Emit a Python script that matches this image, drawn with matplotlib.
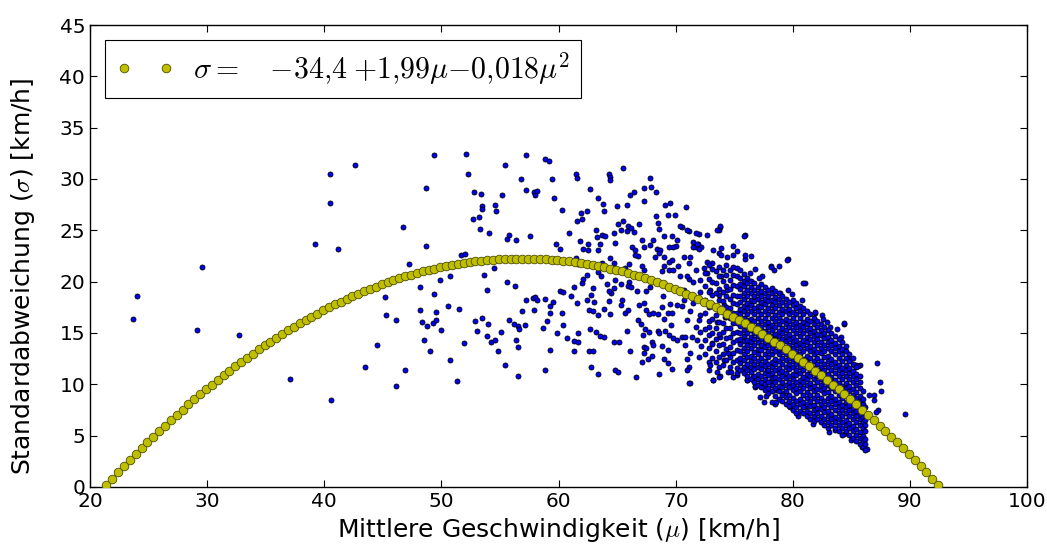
import numpy as np
import matplotlib.pyplot as plt

plt.rcParams['mathtext.fontset'] = 'cm'
plt.rcParams['font.family'] = ['DejaVu Sans']

# Ausgleichskurve sigma(mu) - Markerpositionen
fit_mu = [21.4, 21.9, 22.4, 22.9, 23.4, 23.9, 24.4, 24.9, 25.4, 25.9,
          26.4, 26.9, 27.4, 27.9, 28.4, 28.9, 29.4, 29.9, 30.4, 30.9,
          31.4, 31.9, 32.4, 32.9, 33.4, 33.9, 34.4, 34.9, 35.4, 35.9,
          36.4, 36.9, 37.4, 37.9, 38.4, 38.9, 39.4, 39.9, 40.4, 40.9,
          41.4, 41.9, 42.4, 42.9, 43.4, 43.9, 44.4, 44.9, 45.4, 45.9,
          46.4, 46.9, 47.4, 47.9, 48.4, 48.9, 49.4, 49.9, 50.4, 50.9,
          51.4, 51.9, 52.4, 52.9, 53.4, 53.9, 54.4, 54.9, 55.4, 55.9,
          56.4, 56.9, 57.4, 57.9, 58.4, 58.9, 59.4, 59.9, 60.4, 60.9,
          61.4, 61.9, 62.4, 62.9, 63.4, 63.9, 64.4, 64.9, 65.4, 65.9,
          66.4, 66.9, 67.4, 67.9, 68.4, 68.9, 69.4, 69.9, 70.4, 70.9,
          71.4, 71.9, 72.4, 72.9, 73.4, 73.9, 74.4, 74.9, 75.4, 75.9,
          76.4, 76.9, 77.4, 77.9, 78.4, 78.9, 79.4, 79.9, 80.4, 80.9,
          81.4, 81.9, 82.4, 82.9, 83.4, 83.9, 84.4, 84.9, 85.4, 85.9,
          86.4, 86.9, 87.4, 87.9, 88.4, 88.9, 89.4, 89.9, 90.4, 90.9,
          91.4, 91.9, 92.4]
fit_sigma = [0.20, 0.81, 1.42, 2.02, 2.61, 3.19, 3.77, 4.33, 4.89, 5.43,
             5.97, 6.50, 7.02, 7.53, 8.04, 8.53, 9.02, 9.49, 9.96, 10.42,
             10.87, 11.31, 11.75, 12.17, 12.59, 12.99, 13.39, 13.78, 14.16, 14.53,
             14.90, 15.25, 15.60, 15.93, 16.26, 16.58, 16.89, 17.19, 17.49, 17.77,
             18.05, 18.31, 18.57, 18.82, 19.06, 19.29, 19.52, 19.73, 19.94, 20.13,
             20.32, 20.50, 20.67, 20.83, 20.99, 21.13, 21.27, 21.39, 21.51, 21.62,
             21.72, 21.81, 21.90, 21.97, 22.04, 22.09, 22.14, 22.18, 22.21, 22.23,
             22.25, 22.25, 22.25, 22.23, 22.21, 22.18, 22.14, 22.09, 22.04, 21.97,
             21.90, 21.81, 21.72, 21.62, 21.51, 21.39, 21.27, 21.13, 20.99, 20.83,
             20.67, 20.50, 20.32, 20.13, 19.94, 19.73, 19.52, 19.29, 19.06, 18.82,
             18.57, 18.31, 18.05, 17.77, 17.49, 17.19, 16.89, 16.58, 16.26, 15.93,
             15.60, 15.25, 14.90, 14.53, 14.16, 13.78, 13.39, 12.99, 12.59, 12.17,
             11.75, 11.31, 10.87, 10.42, 9.96, 9.49, 9.02, 8.53, 8.04, 7.53,
             7.02, 6.50, 5.97, 5.43, 4.89, 4.33, 3.77, 3.19, 2.61, 2.02,
             1.42, 0.81, 0.20]

fit_label = r'$\sigma=\quad{-}34{,}4\;{+}1{,}99\mu{-}0{,}018\mu^2$'

# einzelne Messpunkte (mu, sigma), locker verteilter Bereich
sparse_points = [
    (24.0, 18.6), (23.7, 16.4), (29.6, 21.4), (29.1, 15.3), (32.7, 14.8), (37.1, 10.5),
    (40.6, 8.5), (40.5, 30.5), (42.6, 31.4), (40.5, 27.7), (39.2, 23.7), (41.2, 23.2),
    (45.2, 18.5), (45.3, 16.7), (44.5, 13.8), (43.5, 11.7),
    (49.4, 32.3), (52.1, 32.4), (57.2, 32.3), (58.8, 31.9), (59.2, 31.8), (55.4, 31.4),
    (52.3, 30.5), (48.7, 29.1), (65.5, 31.1), (61.5, 30.5), (61.6, 30.1), (64.3, 30.5),
    (64.4, 30.2), (64.4, 29.9), (56.8, 30.0), (59.4, 30.0), (57.2, 28.9), (57.9, 28.7),
    (58.0, 28.4), (58.2, 28.8), (52.8, 28.7), (53.4, 28.5), (55.2, 28.4), (59.6, 28.1),
    (62.7, 29.0), (53.5, 27.4), (53.5, 27.1), (54.6, 27.5), (54.7, 26.9), (52.7, 26.1),
    (53.2, 26.3), (60.3, 27.0), (63.4, 28.1), (63.8, 27.6), (63.9, 26.9), (65.0, 27.4),
    (61.9, 26.7), (62.4, 26.9), (61.6, 25.9), (62.0, 26.1), (66.1, 28.4), (66.4, 28.7),
    (65.5, 25.9), (65.9, 25.4), (65.8, 27.5), (67.3, 27.9), (67.3, 29.1), (67.8, 30.1),
    (67.9, 29.2), (68.3, 28.7), (69.1, 27.5), (69.5, 27.7), (69.3, 26.5), (69.9, 26.5),
    (68.3, 26.4), (68.6, 25.1), (68.5, 25.7), (65.1, 25.6), (66.9, 25.6), (53.3, 25.1),
    (54.1, 24.7), (55.8, 24.5), (55.6, 24.2), (56.4, 24.1), (57.6, 24.4), (60.9, 24.7),
    (59.8, 23.7), (60.1, 23.2), (61.8, 24.0), (62.5, 23.7), (62.1, 23.2), (62.5, 23.1),
    (63.2, 25.0), (63.3, 24.3), (63.7, 24.5), (64.0, 24.4), (63.5, 23.7), (64.7, 24.7),
    (65.3, 25.0), (65.8, 24.9), (66.2, 25.2), (66.4, 24.8), (64.8, 23.8), (66.3, 23.4),
    (66.5, 23.1), (67.1, 24.1), (67.3, 23.4), (67.8, 23.6), (68.1, 24.1), (68.4, 23.2),
    (69.0, 24.4), (69.7, 24.4), (70.0, 23.5), (69.8, 23.4), (70.1, 24.1), (68.7, 23.1),
    (69.4, 23.4), (46.7, 25.3), (48.7, 23.5), (47.2, 21.7), (51.7, 22.6), (52.0, 22.7),
    (53.6, 20.6), (54.5, 21.3), (50.7, 20.5), (49.9, 20.2), (48.2, 19.5), (46.1, 16.3),
    (48.2, 17.2), (48.3, 16.1), (48.8, 15.7), (49.3, 16.0), (49.5, 17.0), (49.5, 16.3),
    (49.4, 18.8), (50.6, 17.6), (51.5, 17.3), (50.0, 15.3), (48.5, 14.3), (49.0, 13.2),
    (50.7, 12.4), (51.3, 10.3), (46.9, 11.4), (46.1, 9.8), (51.9, 14.0), (52.9, 16.2),
    (53.0, 15.2), (53.5, 16.5), (54.0, 15.9), (53.9, 14.7), (54.2, 14.1), (54.6, 14.3),
    (55.1, 15.1), (54.8, 13.2), (53.9, 19.2), (55.6, 20.0), (56.3, 19.6), (55.8, 16.3),
    (56.2, 15.9), (56.5, 15.7), (56.6, 15.4), (57.1, 15.8), (56.4, 14.3), (56.5, 13.6),
    (55.4, 11.9), (56.5, 10.8), (57.2, 18.2), (57.8, 18.4), (58.0, 18.5), (58.2, 18.2),
    (58.8, 18.3), (59.3, 17.6), (59.5, 18.0), (59.3, 16.9), (59.0, 16.2), (58.7, 15.5),
    (57.9, 17.2), (56.9, 17.1), (60.3, 16.9), (60.4, 15.8), (59.9, 15.0), (59.3, 13.3),
    (58.8, 11.4), (60.7, 14.5), (61.3, 14.2), (61.7, 15.0), (61.7, 14.1), (61.3, 13.2),
    (60.1, 19.1), (60.4, 19.0), (61.1, 18.6), (61.3, 19.5), (61.6, 17.9), (62.0, 19.9),
    (62.4, 18.2), (62.6, 17.2), (62.9, 17.1), (63.4, 16.7), (63.0, 18.0), (62.1, 20.3),
    (62.4, 20.6), (62.9, 19.4), (62.8, 18.7), (62.7, 15.4), (63.2, 15.1), (63.5, 14.7),
    (63.9, 14.6), (62.6, 13.2), (62.9, 13.2), (62.8, 11.7), (63.4, 11.0), (64.7, 14.1),
    (64.8, 11.4), (65.1, 11.2), (63.9, 17.3), (64.3, 18.1), (64.5, 18.9), (64.1, 19.8),
    (64.8, 20.2), (64.4, 16.8), (65.3, 17.7), (65.4, 18.2), (65.7, 16.9), (65.9, 17.2),
    (65.8, 15.2), (66.1, 13.2), (65.2, 14.1), (66.6, 10.7), (66.0, 20.0), (65.9, 19.6),
    (66.2, 19.5), (66.7, 19.1), (66.8, 22.5), (67.1, 21.5), (67.3, 21.1), (67.8, 19.5),
    (67.5, 19.1), (66.9, 17.7), (67.3, 17.9), (67.5, 17.2), (67.7, 16.8), (66.8, 16.3),
    (67.0, 15.9), (67.4, 15.4), (67.2, 14.8), (67.7, 15.1), (67.3, 13.6), (67.5, 13.5),
    (67.3, 13.0), (68.0, 14.1), (68.1, 13.8), (67.1, 12.2), (67.6, 12.5), (68.0, 12.8),
    (68.6, 11.0), (68.1, 16.9), (68.5, 16.8), (68.8, 17.5), (69.0, 16.4), (69.3, 16.9),
    (68.5, 15.2), (68.6, 15.0), (69.1, 15.2), (69.4, 14.8), (68.8, 13.7), (69.3, 13.3),
    (69.0, 12.5), (69.3, 12.1), (69.7, 11.5), (68.9, 18.6), (69.5, 17.8), (69.7, 16.9),
    (70.1, 17.7), (69.6, 15.8), (69.8, 14.5), (70.1, 14.3), (69.0, 21.5), (68.8, 21.0),
    (69.4, 21.9), (69.4, 21.1), (69.8, 21.1), (68.2, 22.4), (68.6, 22.8), (69.0, 22.4),
    (69.7, 22.1), (65.3, 19.8), (64.7, 19.4), (64.3, 19.1), (63.4, 20.9), (63.6, 20.5),
    (61.5, 22.3), (61.7, 21.7), (62.5, 21.6), (63.4, 23.1), (63.7, 21.8), (64.4, 22.3),
    (64.7, 21.8), (65.7, 21.3), (66.0, 21.7), (66.5, 22.6),
    # Bereich 70 - 80
    (70.9, 27.3), (70.5, 25.3), (71.1, 24.9), (73.8, 25.3), (73.7, 25.0), (75.9, 24.5),
    (72.7, 24.5), (72.0, 24.6), (71.5, 23.9), (71.9, 23.7), (71.7, 23.4), (72.2, 23.4),
    (73.2, 23.1), (73.9, 23.3), (73.7, 22.8), (74.9, 23.5), (75.2, 23.0), (75.9, 22.2),
    (76.4, 22.5), (74.4, 22.4), (72.7, 21.9), (79.6, 22.2), (78.1, 21.5), (78.8, 21.5),
    (78.4, 21.1), (81.0, 19.9), (76.8, 21.2), (77.4, 20.5), (70.2, 21.5), (71.1, 20.3),
    (70.4, 20.5), (71.5, 20.0), (79.6, 19.2), (78.9, 18.9), (81.9, 16.9), (82.5, 16.7),
    (81.8, 16.1), (83.2, 15.6), (84.1, 14.6), (84.4, 15.9), (84.9, 12.5), (85.2, 11.9),
    (85.7, 11.9), (87.2, 12.1), (87.4, 10.2), (87.5, 9.3), (86.9, 9.0), (87.3, 7.5),
    (71.1, 11.7), (71.0, 12.5), (70.8, 13.8), (70.5, 14.6), (71.4, 14.6), (72.1, 15.1),
    (71.2, 10.1), (72.8, 11.4), (73.2, 10.4), (73.8, 10.8), (73.7, 11.7), (74.5, 11.2),
    (75.2, 10.9), (76.1, 10.4), (76.8, 9.7), (77.2, 8.8), (77.5, 8.3), (78.5, 8.1),
    (79.8, 7.8), (74.5, 13.0), (75.5, 12.4), (76.2, 11.7),
    (70.4, 25.4), (71.0, 25.0), (71.7, 24.7), (71.8, 23.7), (71.5, 23.4), (72.0, 23.2),
    (73.5, 25.0), (73.8, 25.4), (73.9, 22.6), (74.9, 22.6), (75.8, 24.4), (75.9, 22.6),
    (78.1, 21.4), (79.5, 22.1), (70.7, 22.4), (71.2, 22.4), (71.1, 21.8), (71.7, 21.1),
    (72.4, 21.3), (73.1, 21.8), (71.0, 20.5), (72.1, 20.2), (72.7, 20.8), (73.9, 20.5),
    (70.5, 17.6), (71.2, 17.1), (72.1, 16.7), (71.0, 16.3), (71.7, 15.6), (70.8, 14.6),
    (71.8, 14.3), (72.2, 13.7), (73.1, 14.0), (73.8, 14.6), (71.2, 13.0), (72.0, 12.7),
    (72.8, 12.2), (74.1, 12.4), (71.0, 11.4), (72.9, 11.9), (73.5, 11.2), (74.7, 11.2),
    (74.9, 10.7), (71.1, 10.1), (73.2, 10.4), (73.7, 10.7), (75.2, 11.1), (75.8, 11.6),
    (76.1, 10.4), (76.6, 10.7), (77.8, 11.4), (77.5, 9.8), (78.1, 10.3), (76.8, 9.8),
    (78.6, 9.4), (78.2, 8.3), (79.2, 9.1),
    (70.7, 19.2), (71.4, 18.7), (72.1, 19.0), (72.9, 19.2), (73.7, 18.7), (74.4, 19.2),
    (70.7, 18.2), (71.5, 17.9), (72.5, 18.0), (73.2, 17.6), (74.1, 17.7), (72.0, 16.3),
    (72.8, 15.6), (73.5, 16.1), (74.2, 16.6),
    # Rand der dichten Wolke
    (80.9, 19.9), (84.4, 16.0), (81.9, 17.0), (82.6, 16.4), (84.8, 12.6), (85.4, 11.9),
    (85.6, 11.8), (86.5, 9.0), (86.9, 8.5), (87.1, 7.3), (78.6, 8.3), (81.1, 7.9),
    (82.6, 6.6), (83.6, 5.5), (84.4, 5.2), (85.0, 4.6), (85.9, 3.9), (86.3, 3.7),
    (89.6, 7.1), (76.3, 20.8), (77.1, 20.4), (79.9, 18.8), (80.8, 18.2), (82.9, 16.1),
    (83.8, 15.4), (77.7, 8.9), (80.4, 6.9), (81.7, 6.1), (83.1, 5.3),
]

dense_columns = [
    (72.5, [12.9, 14.3, 15.4, 16.9, 18.2, 19.6, 20.8]),
    (72.8, [13.5, 14.8, 16.2, 17.5, 19.0, 20.3, 21.6]),
    (73.1, [12.6, 13.9, 15.0, 16.4, 17.8, 18.7, 20.0, 21.2]),
    (73.4, [12.2, 13.2, 14.4, 15.5, 16.7, 17.6, 18.9, 19.9, 21.0]),
    (73.7, [12.7, 13.8, 14.9, 16.1, 17.2, 18.2, 19.3, 20.5, 21.4]),
    (74.0, [11.9, 12.9, 13.9, 15.1, 16.0, 17.0, 18.1, 19.0, 20.1, 21.1]),
    (74.3, [12.4, 13.4, 14.5, 15.5, 16.6, 17.5, 18.6, 19.6, 20.6, 21.6]),
    (74.6, [11.7, 12.7, 13.6, 14.6, 15.5, 16.5, 17.4, 18.3, 19.3, 20.2, 21.1]),
    (74.9, [12.2, 13.0, 14.1, 15.0, 16.0, 16.9, 17.9, 18.7, 19.7, 20.6, 21.4]),
    (75.2, [11.6, 12.4, 13.3, 14.3, 15.1, 16.0, 16.9, 17.8, 18.6, 19.6, 20.5, 21.3]),
    (75.5, [11.4, 12.1, 12.6, 13.2, 13.9, 14.4, 15.0, 15.7, 16.2, 16.8, 17.3, 18.0, 18.6, 19.3, 19.8, 20.4, 21.1]),
    (75.8, [11.1, 11.7, 12.4, 12.9, 13.5, 14.2, 14.7, 15.3, 15.8, 16.5, 17.1, 17.6, 18.3, 18.9, 19.6, 20.1, 20.7]),
    (76.1, [10.8, 11.4, 12.0, 12.7, 13.2, 13.8, 14.3, 15.0, 15.6, 16.3, 16.8, 17.4, 17.9, 18.6, 19.2, 19.9, 20.4]),
    (76.4, [10.5, 11.2, 11.7, 12.3, 12.8, 13.5, 14.1, 14.6, 15.3, 15.9, 16.4, 17.1, 17.7, 18.2, 18.9, 19.5, 20.1]),
    (76.7, [10.2, 10.8, 11.5, 12.0, 12.6, 13.1, 13.8, 14.4, 15.0, 15.5, 16.2, 16.8, 17.4, 18.1, 18.6, 19.2, 19.9]),
    (77.0, [9.9, 10.5, 11.0, 11.7, 12.3, 12.9, 13.4, 14.1, 14.7, 15.3, 15.8, 16.5, 17.1, 17.6, 18.3, 18.9, 19.5]),
    (77.3, [9.7, 10.2, 10.8, 11.5, 12.0, 12.6, 13.3, 13.8, 14.4, 15.1, 15.6, 16.2, 16.8, 17.5, 18.0, 18.6, 19.1, 19.8]),
    (77.6, [9.4, 10.0, 10.5, 11.1, 11.8, 12.3, 12.9, 13.6, 14.1, 14.7, 15.2, 15.9, 16.5, 17.1, 17.8, 18.3, 18.9, 19.5]),
    (77.9, [9.1, 9.6, 10.2, 10.9, 11.4, 12.0, 12.7, 13.2, 13.8, 14.3, 15.0, 15.6, 16.1, 16.8, 17.4, 18.1, 18.6, 19.2]),
    (78.2, [9.3, 9.9, 10.6, 11.1, 11.7, 12.2, 12.9, 13.5, 14.0, 14.7, 15.3, 15.8, 16.5, 17.1, 17.7, 18.2, 18.9, 19.4]),
    (78.5, [8.9, 9.6, 10.2, 10.7, 11.4, 12.0, 12.5, 13.2, 13.8, 14.4, 14.9, 15.6, 16.2, 16.7, 17.4, 18.0, 18.5, 19.1]),
    (78.8, [8.6, 9.3, 9.8, 10.5, 11.1, 11.6, 12.3, 12.9, 13.4, 14.1, 14.7, 15.2, 15.9, 16.5, 17.0, 17.7, 18.3, 18.9]),
    (79.1, [8.4, 9.0, 9.7, 10.2, 10.8, 11.3, 12.0, 12.6, 13.1, 13.8, 14.4, 15.0, 15.5, 16.2, 16.8, 17.3, 18.0, 18.6]),
    (79.4, [8.1, 8.8, 9.3, 9.9, 10.6, 11.1, 11.7, 12.4, 12.9, 13.5, 14.2, 14.7, 15.3, 15.9, 16.4, 17.1, 17.7, 18.3]),
    (79.7, [7.9, 8.4, 9.0, 9.7, 10.2, 10.8, 11.5, 12.0, 12.6, 13.1, 13.8, 14.4, 14.9, 15.6, 16.2, 16.8, 17.3, 18.0]),
    (80.0, [7.5, 8.1, 8.7, 9.4, 9.9, 10.5, 11.0, 11.7, 12.3, 12.8, 13.5, 14.1, 14.6, 15.3, 15.9, 16.5, 17.0, 17.7, 18.2]),
    (80.3, [7.2, 7.8, 8.4, 9.1, 9.6, 10.2, 10.9, 11.4, 12.0, 12.5, 13.2, 13.8, 14.3, 15.0, 15.6, 16.1, 16.8, 17.4, 17.9]),
    (80.6, [7.4, 8.1, 8.6, 9.3, 9.9, 10.4, 11.1, 11.7, 12.2, 12.9, 13.5, 14.0, 14.7, 15.3, 15.8, 16.5, 17.1, 17.6]),
    (80.9, [7.2, 7.8, 8.3, 9.0, 9.6, 10.2, 10.7, 11.4, 12.0, 12.5, 13.2, 13.8, 14.3, 15.0, 15.6, 16.1, 16.8, 17.4]),
    (81.2, [6.9, 7.4, 8.1, 8.7, 9.2, 9.9, 10.5, 11.0, 11.7, 12.3, 12.8, 13.5, 14.1, 14.6, 15.3, 15.9, 16.4, 17.1]),
    (81.5, [6.6, 7.2, 7.9, 8.4, 9.0, 9.6, 10.1, 10.8, 11.4, 11.9, 12.6, 13.2, 13.7, 14.4, 15.0, 15.5, 16.2, 16.8]),
    (81.8, [6.4, 6.9, 7.5, 8.0, 8.7, 9.3, 9.8, 10.5, 11.1, 11.6, 12.3, 12.9, 13.4, 14.1, 14.7, 15.2, 15.9, 16.5]),
    (82.1, [6.6, 7.2, 7.7, 8.4, 9.0, 9.5, 10.2, 10.8, 11.3, 12.0, 12.6, 13.1, 13.8, 14.4, 14.9, 15.6, 16.2]),
    (82.4, [6.3, 6.9, 7.6, 8.1, 8.7, 9.4, 9.9, 10.5, 11.2, 11.7, 12.3, 13.0, 13.5, 14.1, 14.8, 15.3, 15.9]),
    (82.7, [6.0, 6.6, 7.3, 7.8, 8.4, 9.1, 9.6, 10.2, 10.9, 11.4, 12.0, 12.7, 13.2, 13.8, 14.5, 15.0, 15.6]),
    (83.0, [5.7, 6.3, 6.9, 7.4, 8.1, 8.7, 9.2, 9.9, 10.5, 11.0, 11.7, 12.3, 12.8, 13.5, 14.1, 14.6, 15.3]),
    (83.3, [6.0, 6.6, 7.1, 7.8, 8.4, 8.9, 9.6, 10.2, 10.7, 11.4, 12.0, 12.5, 13.2, 13.8, 14.3, 15.0]),
    (83.6, [5.7, 6.3, 6.8, 7.5, 8.1, 8.6, 9.3, 9.9, 10.4, 11.1, 11.7, 12.2, 12.9, 13.5, 14.0, 14.7]),
    (83.9, [5.4, 6.0, 6.6, 7.2, 7.8, 8.3, 9.0, 9.6, 10.1, 10.8, 11.4, 11.9, 12.6, 13.2, 13.7, 14.4]),
    (84.2, [5.1, 5.7, 6.3, 6.9, 7.5, 8.0, 8.7, 9.3, 9.8, 10.5, 11.1, 11.6, 12.3, 12.9, 13.4, 14.1]),
    (84.5, [5.4, 6.0, 6.5, 7.2, 7.8, 8.3, 9.0, 9.6, 10.1, 10.8, 11.4, 11.9, 12.6, 13.2, 13.7]),
    (84.8, [5.1, 5.7, 6.2, 6.9, 7.5, 8.0, 8.7, 9.3, 9.8, 10.5, 11.1, 11.6, 12.3, 12.9]),
    (85.1, [4.8, 5.4, 5.9, 6.6, 7.2, 7.7, 8.4, 9.0, 9.5, 10.2, 10.8, 11.3, 12.0, 12.6]),
    (85.4, [4.5, 5.1, 5.6, 6.3, 6.9, 7.4, 8.1, 8.7, 9.2, 9.9, 10.5, 11.0, 11.7]),
    (85.7, [4.2, 4.8, 5.3, 6.0, 6.6, 7.1, 7.8, 8.4, 8.9, 9.6, 10.2, 10.8]),
    (86.0, [3.9, 4.5, 5.0, 5.7, 6.3, 6.8, 7.5, 8.1, 8.6, 9.3]),
    (86.2, [3.6, 4.2, 4.7, 5.4, 6.0, 6.5, 7.2, 7.8]),
]

# Punkte zusammenfuehren
mu_pts = [p[0] for p in sparse_points]
sigma_pts = [p[1] for p in sparse_points]
for col_mu, col_sigma in dense_columns:
    for s in col_sigma:
        mu_pts.append(col_mu)
        sigma_pts.append(s)

fig = plt.figure(figsize=(10.47, 5.44), dpi=100)
ax = fig.add_axes([0.086, 0.105, 0.895, 0.849])

ax.scatter(mu_pts, sigma_pts, s=13, c='#0000ff', edgecolors='black',
           linewidths=0.6, zorder=2)
ax.plot(fit_mu, fit_sigma, 'o', color=(0.75, 0.75, 0.0), markersize=6.2,
        markeredgecolor='#4d4d00', markeredgewidth=0.6, label=fit_label, zorder=3)

ax.set_xlim(20, 100)
ax.set_ylim(0, 45)
ax.set_xticks(np.arange(20, 101, 10))
ax.set_yticks(np.arange(0, 46, 5))
ax.tick_params(direction='in', top=True, right=True, length=5, labelsize=14.5)
for sp in ax.spines.values():
    sp.set_linewidth(1.0)

ax.set_xlabel(r'Mittlere Geschwindigkeit ($\mu$) [km/h]', fontsize=18)
ax.set_ylabel(r'Standardabweichung ($\sigma$) [km/h]', fontsize=18)
ax.yaxis.set_label_coords(-0.057, 0.457)

leg = ax.legend(loc='upper left', numpoints=2, fontsize=21.5, fancybox=False,
                framealpha=1, edgecolor='black', borderaxespad=0.5,
                handletextpad=0.6, borderpad=0.35)
leg.get_frame().set_linewidth(0.8)

plt.savefig('out.png', dpi=100)
